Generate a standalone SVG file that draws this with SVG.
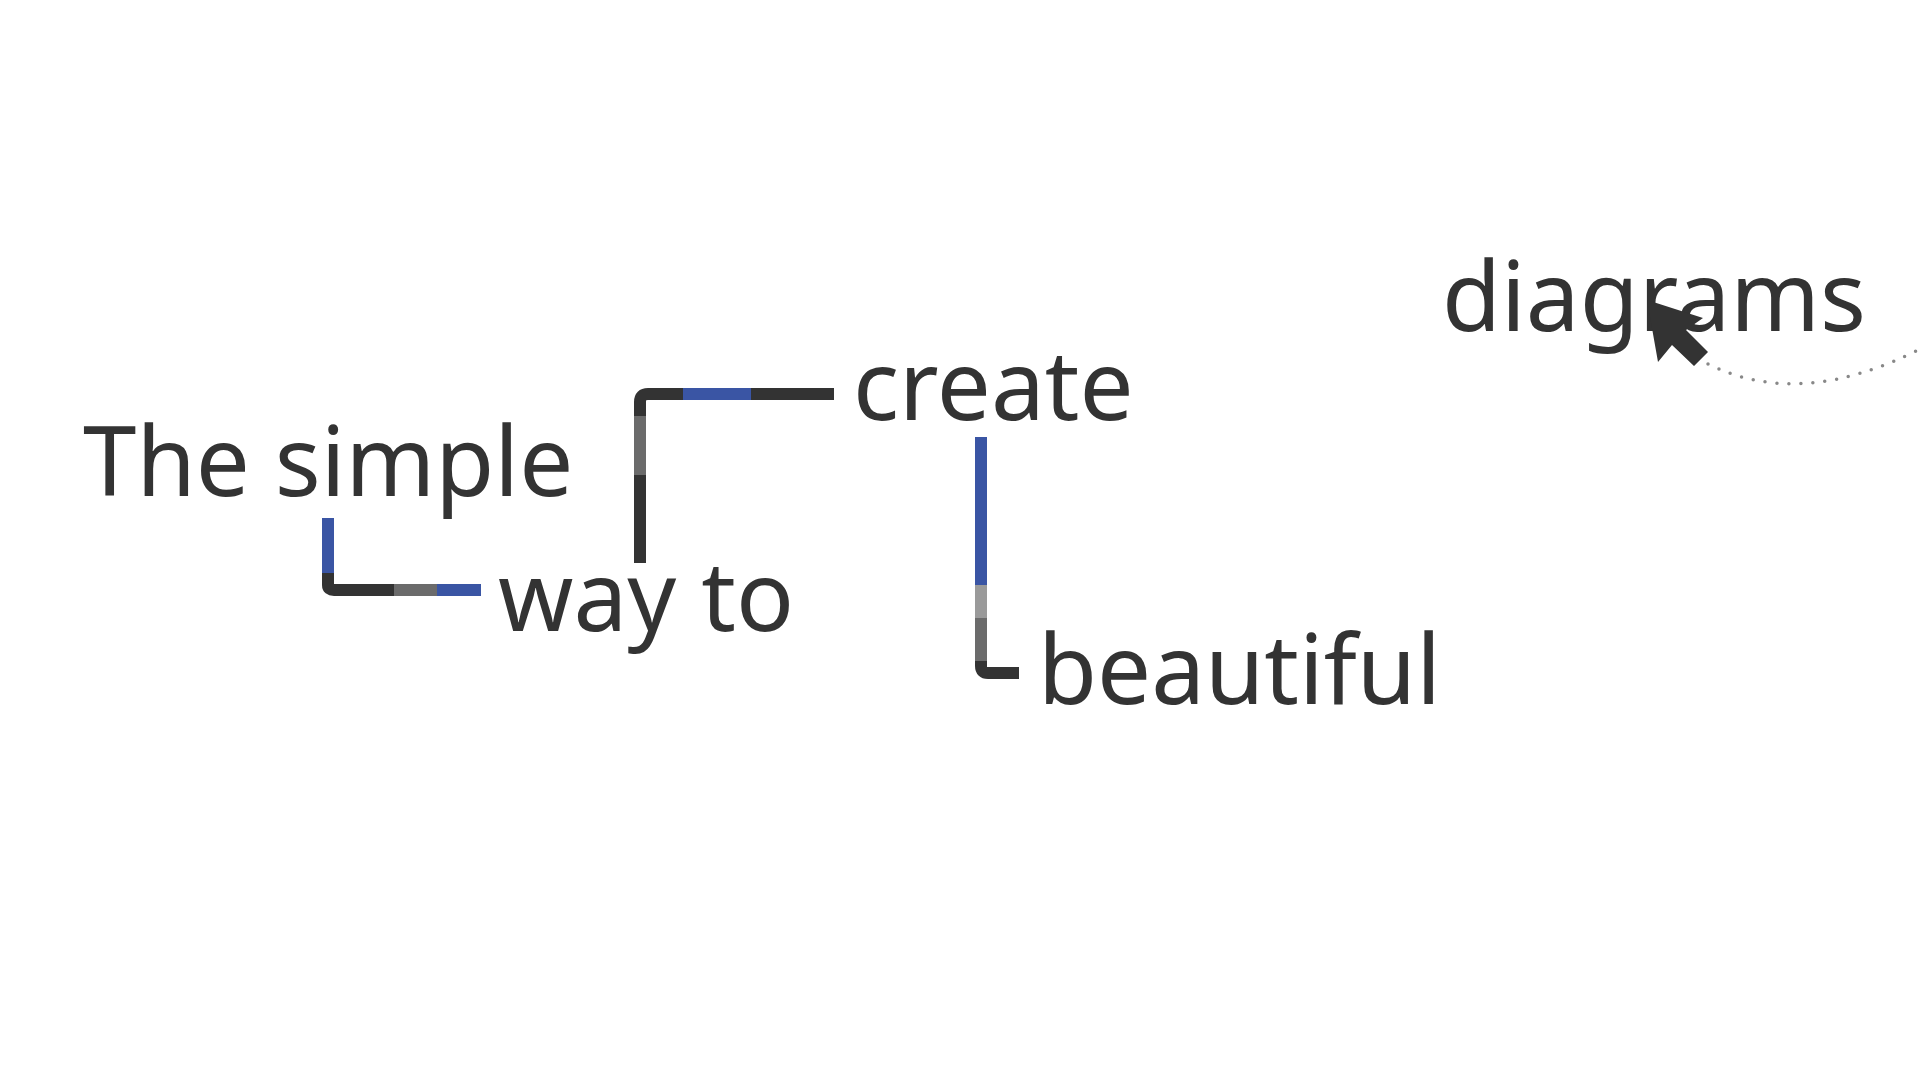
<svg xmlns="http://www.w3.org/2000/svg" width="1920" height="1080" viewBox="0 0 1920 1080">
<style>
.t{font-family:"Noto Sans","Open Sans",sans-serif;font-size:96px;fill:#333333;}
.c{fill:none;stroke-width:12;}
.d{stroke:#333333}.b{stroke:#3a55a4}.g{stroke:#6b6b6b}.l{stroke:#9a9a9a}
</style>
<rect width="1920" height="1080" fill="#ffffff"/>
<g id="connectors">
<path class="c d" d="M328 570 V585 Q328 590 334 590 H394" stroke-linecap="butt"/>
<path class="c b" d="M328 518 V573"/>
<path class="c g" d="M394 590 H437"/>
<path class="c b" d="M437 590 H481"/>
<path class="c d" d="M640 563 V402 Q640 394 648 394 H834"/>
<path class="c g" d="M640 416 V475"/>
<path class="c b" d="M683 394 H751"/>
<path class="c d" d="M981 655 V666 Q981 673 988 673 H1019"/>
<path class="c b" d="M981 437 V585"/>
<path class="c l" d="M981 585 V618"/>
<path class="c g" d="M981 618 V661"/>
<path d="M1708 364 Q1800 410 1920 349" fill="none" stroke="#888" stroke-width="3.5" stroke-linecap="round" stroke-dasharray="0 12"/>
</g>
<g id="n1"><text class="t" x="83" y="496">The simple</text></g>
<g id="n2"><text class="t" x="498" y="631">way to</text></g>
<g id="n3"><text class="t" x="853" y="420">create</text></g>
<g id="n4"><text class="t" x="1038" y="704">beautiful</text></g>
<g id="n5"><text class="t" x="1442" y="331">diagrams</text></g>
<g id="cursor"><path d="M1647 300 L1658 362 L1672 345 L1694 366 L1708 352 L1686 330 L1703 318 Z" fill="#333333"/></g>
</svg>
